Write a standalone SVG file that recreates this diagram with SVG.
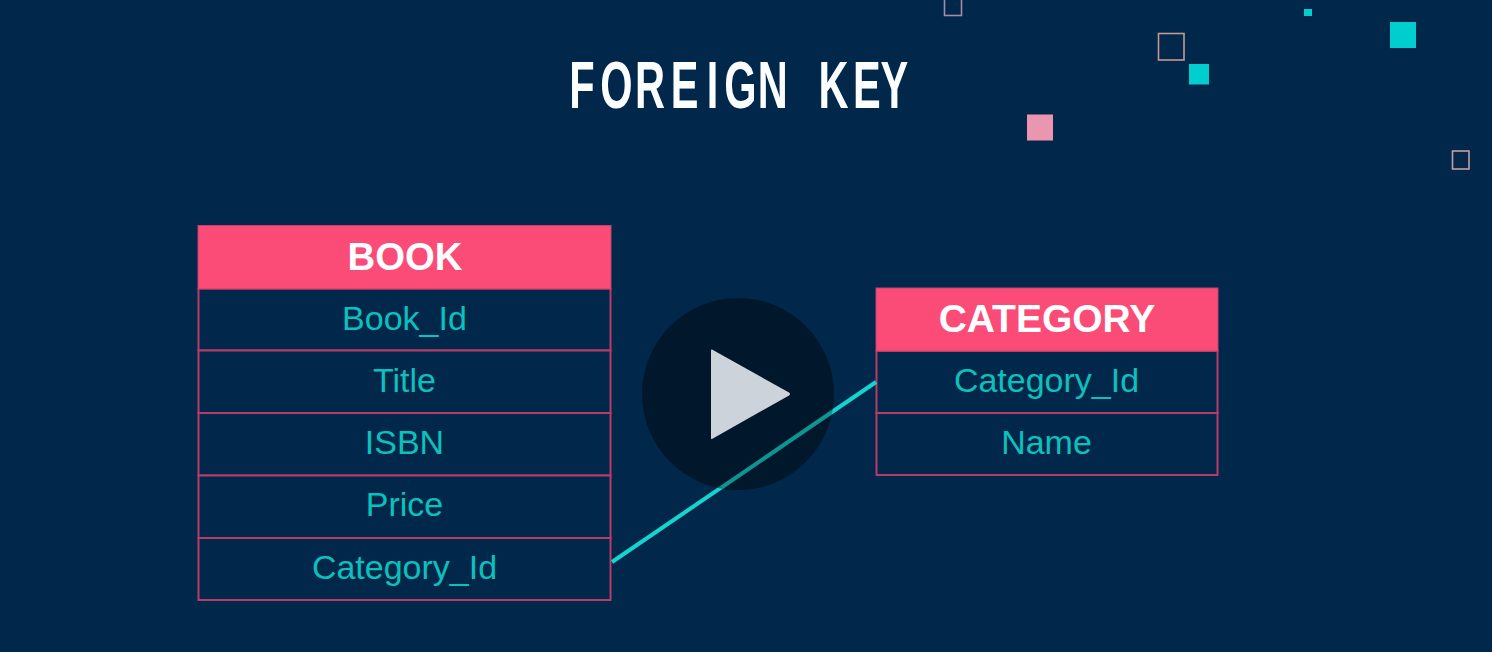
<svg xmlns="http://www.w3.org/2000/svg" width="1492" height="652" viewBox="0 0 1492 652">
<style>
.hd{fill:#fb4b77;stroke:#c8406c;stroke-width:1}
.cell{fill:#01274a;stroke:#b83c68;stroke-width:2}
.ht{font-family:"Liberation Sans",Arial,sans-serif;font-weight:700;fill:#fff;text-anchor:middle}
.ct{font-family:"Liberation Sans",Arial,sans-serif;font-size:34px;fill:#0cc0bd;text-anchor:middle}
.teal{fill:#00cdcd}
.out{fill:none;stroke-width:1.6}
</style>
<rect width="1492" height="652" fill="#01274a"/>
<g id="decor">
<rect class="out" x="944.500" y="-3" width="17" height="18.500" stroke="#a58ba8"/>
<rect class="out" x="1158.500" y="33.500" width="25.500" height="26.500" stroke="#c49a90"/>
<rect class="teal" x="1189" y="64" width="20" height="20.500"/>
<rect class="teal" x="1304" y="9" width="8" height="7"/>
<rect class="teal" x="1390" y="22" width="26" height="26"/>
<rect x="1027" y="114.500" width="26" height="26" fill="#ea96b1"/>
<rect class="out" x="1452.500" y="151" width="16.500" height="18" stroke="#c0a0a4"/>
</g>
<text id="title" transform="scale(0.62 1)" x="918 968 1024 1082 1140 1168 1222 1300 1320 1376 1420" y="108" font-family="'Liberation Sans',Arial,sans-serif" font-weight="700" font-size="67" fill="#fbfdfe">FOREIGN KEY</text>
<g id="book">
<rect class="cell" x="198.500" y="288.500" width="412" height="62"/>
<rect class="cell" x="198.500" y="350.500" width="412" height="62.500"/>
<rect class="cell" x="198.500" y="413" width="412" height="62.500"/>
<rect class="cell" x="198.500" y="475.500" width="412" height="62.500"/>
<rect class="cell" x="198.500" y="538" width="412" height="62"/>
<rect class="hd" x="198" y="225.500" width="413" height="63.500"/>
<text class="ht" x="405" y="270" font-size="38.300">BOOK</text>
<text class="ct" x="404.500" y="329.500">Book_Id</text>
<text class="ct" x="404.500" y="391.500">Title</text>
<text class="ct" x="404.500" y="454">ISBN</text>
<text class="ct" x="404.500" y="516">Price</text>
<text class="ct" x="404.500" y="579">Category_Id</text>
</g>
<g id="category">
<rect class="cell" x="876.500" y="351" width="341" height="62"/>
<rect class="cell" x="876.500" y="413" width="341" height="62"/>
<rect class="hd" x="876" y="288" width="342" height="63"/>
<text class="ht" x="1047" y="332" font-size="39">CATEGORY</text>
<text class="ct" x="1046.500" y="392">Category_Id</text>
<text class="ct" x="1046.500" y="454">Name</text>
</g>
<g id="connectors">
<line x1="612" y1="562" x2="876" y2="382" stroke="#14d4cf" stroke-width="4"/>
</g>
<g id="play">
<circle cx="738" cy="394" r="96" fill="#000" fill-opacity="0.4"/>
<line x1="722" y1="487.500" x2="832" y2="412" stroke="#14d4cf" stroke-width="4" stroke-opacity="0.25"/>
<path d="M712 349.500 L789 392.500 Q791 394 789 395.500 L712 439 Q711 439.500 711 438 L711 350.500 Q711 349 712 349.500Z" fill="#cdd3da"/>
</g>
</svg>
